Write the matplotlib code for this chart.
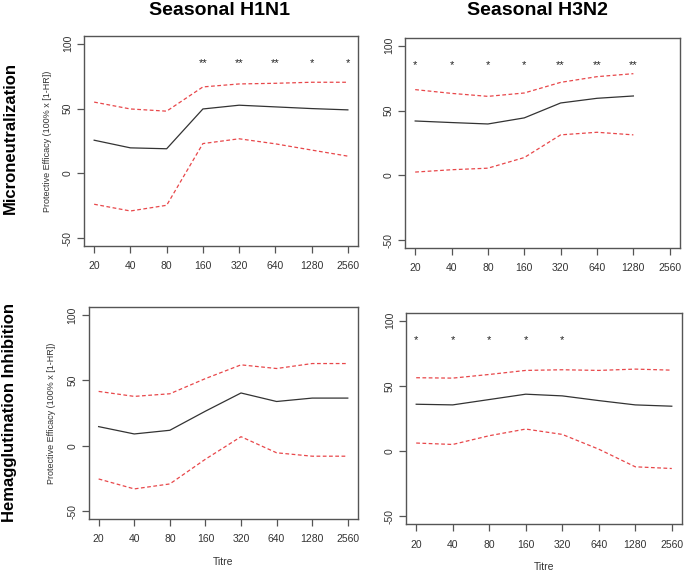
import matplotlib.pyplot as plt
import numpy as np

plt.rcParams['font.family'] = ['Liberation Sans', 'DejaVu Sans']

titres = ["20", "40", "80", "160", "320", "640", "1280", "2560"]

# Seasonal H1N1, microneutralization
h1_mn_mean = [25.6, 19.7, 19.0, 49.7, 52.6, 51.3, 50.0, 49.0]
h1_mn_upper = [55.0, 49.7, 48.0, 66.7, 69.0, 69.5, 70.3, 70.3]
h1_mn_lower = [-23.8, -29.0, -24.6, 23.0, 26.7, 22.8, 18.0, 13.3]
h1_mn_stars = ["", "", "", "**", "**", "**", "*", "*"]

# Seasonal H3N2, microneutralization (no 2560 estimate)
h3_mn_mean = [42.0, 40.8, 39.7, 44.4, 55.9, 59.5, 61.3]
h3_mn_upper = [66.2, 63.3, 61.0, 63.6, 71.8, 76.2, 78.5]
h3_mn_lower = [2.6, 4.4, 5.6, 13.8, 31.3, 33.3, 31.3]
h3_mn_stars = ["*", "*", "*", "*", "**", "**", "**"]

# Seasonal H1N1, hemagglutination inhibition
h1_hai_mean = [14.6, 9.0, 11.8, 26.4, 40.3, 33.8, 36.4, 36.4]
h1_hai_upper = [41.5, 37.7, 39.7, 51.3, 61.8, 59.0, 62.8, 62.8]
h1_hai_lower = [-25.4, -33.0, -29.2, -10.3, 6.9, -5.4, -8.0, -8.0]
h1_hai_stars = ["", "", "", "", "", "", "", ""]

# Seasonal H3N2, hemagglutination inhibition
h3_hai_mean = [35.9, 35.4, 39.5, 43.6, 42.3, 38.7, 35.4, 34.4]
h3_hai_upper = [56.2, 55.9, 58.7, 61.8, 62.3, 61.8, 62.8, 62.0]
h3_hai_lower = [6.2, 5.1, 11.8, 16.9, 12.8, 1.5, -12.0, -13.3]
h3_hai_stars = ["*", "*", "*", "*", "*", "", "", ""]

panels = [
    ([0.1207, 0.5795, 0.3937, 0.359], h1_mn_mean, h1_mn_upper, h1_mn_lower, h1_mn_stars, True, False),
    ([0.5819, 0.576, 0.395, 0.359], h3_mn_mean, h3_mn_upper, h3_mn_lower, h3_mn_stars, False, False),
    ([0.1274, 0.1128, 0.3866, 0.3624], h1_hai_mean, h1_hai_upper, h1_hai_lower, h1_hai_stars, True, True),
    ([0.5833, 0.1038, 0.3966, 0.3617], h3_hai_mean, h3_hai_upper, h3_hai_lower, h3_hai_stars, False, True),
]

fig = plt.figure(figsize=(6.96, 5.85), dpi=100)

axis_col = "#555555"
text_col = "#333333"

for rect, mean, upper, lower, stars, ylab, xlab in panels:
    ax = fig.add_axes(rect)
    x = np.arange(1, len(mean) + 1)
    ax.plot(x, mean, color="#333333", lw=0.9)
    ax.plot(x, upper, color="#e8474a", lw=0.9, ls=(0, (3, 2)))
    ax.plot(x, lower, color="#e8474a", lw=0.9, ls=(0, (3, 2)))
    for xi, s in zip(x, stars):
        if s:
            ax.text(xi, 85, s, ha="center", va="center", fontsize=8, color="#222222")

    ax.set_xlim(0.72, 8.28)
    ax.set_ylim(-56, 106)
    ax.set_xticks(np.arange(1, 9))
    ax.set_xticklabels(titres, fontsize=7.5, color=text_col)
    ax.set_yticks([-50, 0, 50, 100])
    ax.set_yticklabels(["-50", "0", "50", "100"], fontsize=7.5, color=text_col,
                       rotation=90, va="center")
    ax.tick_params(direction="out", length=5, width=0.9, color=axis_col)
    ax.tick_params(axis="x", pad=6)
    ax.tick_params(axis="y", pad=3)
    for sp in ax.spines.values():
        sp.set_color(axis_col)
        sp.set_linewidth(1.0)
    if ylab:
        ax.set_ylabel("Protective Efficacy (100% x [1-HR])", fontsize=6.5,
                      color=text_col, labelpad=8)
    if xlab:
        ax.set_xlabel("Titre", fontsize=7.5, color=text_col, labelpad=9)

fig.text(0.316, 0.997, "Seasonal H1N1", ha="center", va="top",
         fontsize=14, fontweight="bold")
fig.text(0.772, 0.997, "Seasonal H3N2", ha="center", va="top",
         fontsize=14, fontweight="bold")
fig.text(0.015, 1 - 138 / 585, "Microneutralization", ha="center", va="center",
         rotation=90, fontsize=12, fontweight="bold")
fig.text(0.013, 1 - 413 / 585, "Hemagglutination Inhibition", ha="center", va="center",
         rotation=90, fontsize=12, fontweight="bold")

plt.savefig("out.png", dpi=100)
